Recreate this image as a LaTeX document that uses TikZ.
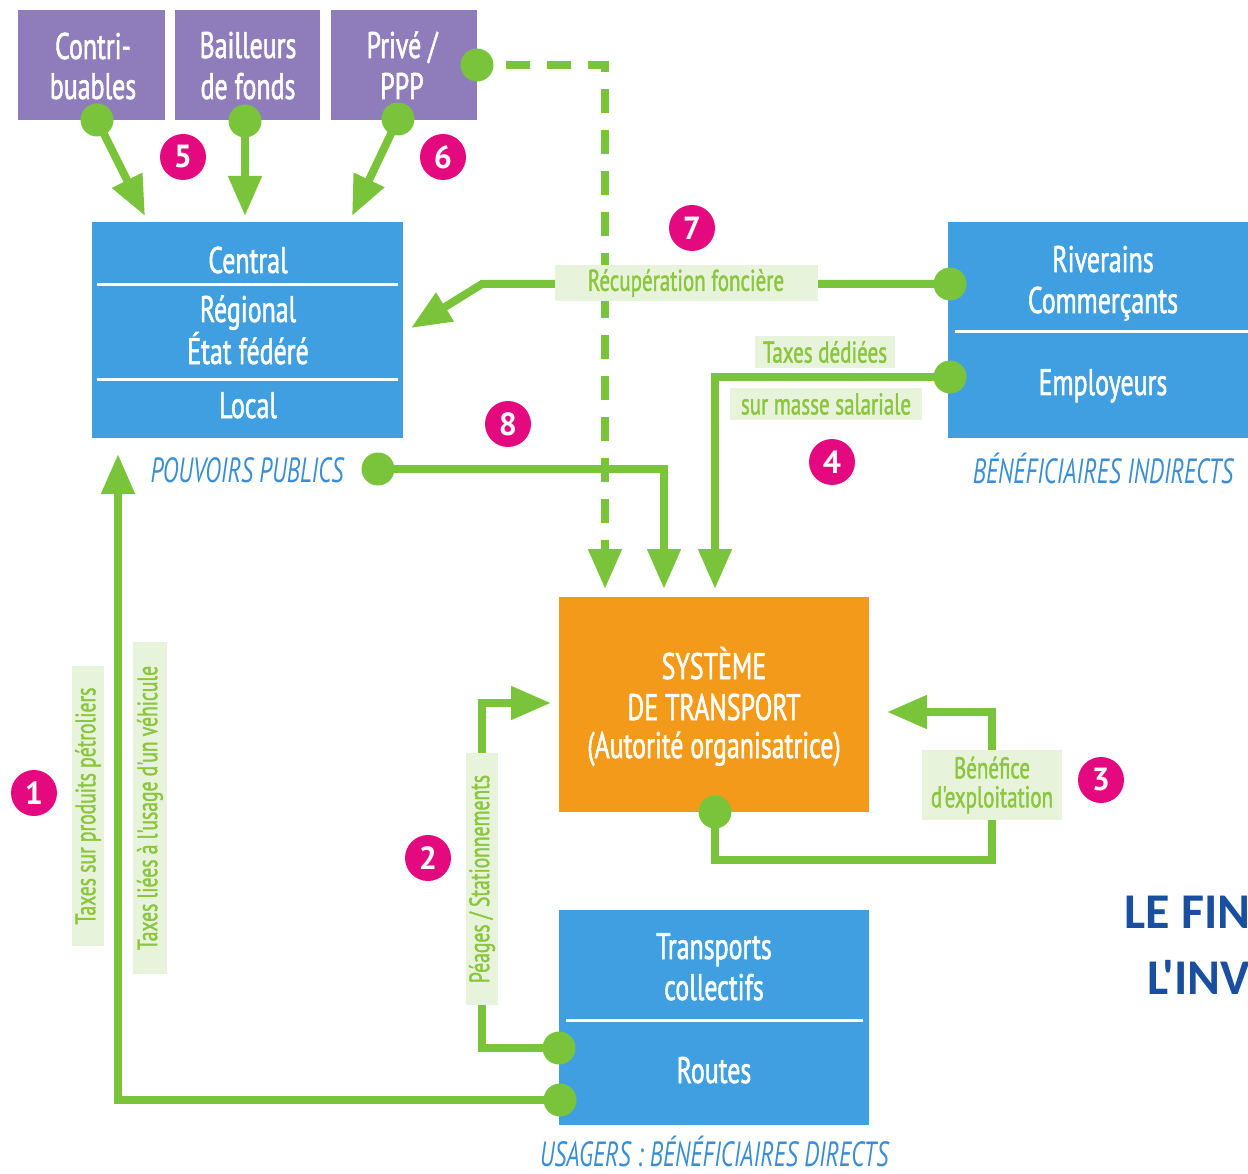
\documentclass[tikz,border=0pt]{standalone}
\usepackage{fontspec}
\setmainfont{PT Sans}
\newfontfamily\cond[FakeStretch=0.70,FakeBold=1.4]{PT Sans}
\newfontfamily\capf[FakeStretch=0.68]{PT Sans}
\newfontfamily\titlef{Carlito}
\usetikzlibrary{arrows.meta}
\definecolor{purp}{HTML}{8E7DBA}
\definecolor{bluebox}{HTML}{3F9FE0}
\definecolor{orbox}{HTML}{F39A1B}
\definecolor{gr}{HTML}{7AC43C}
\definecolor{lbg}{HTML}{E8F3DC}
\definecolor{ltx}{HTML}{8CC63F}
\definecolor{mag}{HTML}{E5097F}
\definecolor{capblue}{HTML}{3B8ED4}
\definecolor{titleblue}{HTML}{1A4E9E}
\begin{document}
\begin{tikzpicture}[x=1pt,y=-1pt,
  pbox/.style={fill=purp, inner sep=0, outer sep=0},
  bbox/.style={fill=bluebox, inner sep=0, outer sep=0},
  obox/.style={fill=orbox, inner sep=0, outer sep=0},
  btxt/.style={text=white, font=\cond\fontsize{37}{40}\selectfont, inner sep=0, anchor=base},
  captxt/.style={text=capblue, font=\capf\itshape\fontsize{35}{38}\selectfont, inner sep=0, anchor=base},
  sepline/.style={draw=white, line width=3pt},
  flow/.style={draw=gr, line width=8pt, -{Triangle[length=40pt,width=32pt]}},
  dflow/.style={draw=gr, line width=8pt, dash pattern=on 24pt off 17pt, -{Triangle[length=40pt,width=32pt]}},
  gdot/.style={circle, fill=gr, minimum size=33pt, inner sep=0},
  lbl/.style={fill=lbg, text=ltx, font=\cond\fontsize{30}{33}\selectfont, inner sep=0, align=center},
  num/.style={circle, fill=mag, text=white, minimum size=46pt, inner sep=0, font=\bfseries\fontsize{32}{32}\selectfont}
]
\useasboundingbox (0,0) rectangle (1248,1174);
\clip (0,0) rectangle (1248,1174);

% ---------- boxes ----------
\node[pbox, minimum width=147pt, minimum height=110pt] (contri) at (91.5,65) {};
\node[pbox, minimum width=145pt, minimum height=110pt] (bail) at (247.5,65) {};
\node[pbox, minimum width=146pt, minimum height=110pt] (prive) at (404,65) {};
\node[btxt] (contriA) at (93,59) {Contri-};
\node[btxt] (contriB) at (93,99) {buables};
\node[btxt] (bailA) at (248,58) {Bailleurs};
\node[btxt] (bailB) at (248,99) {de fonds};
\node[btxt] (priveA) at (402,58) {Privé /};
\node[btxt] (priveB) at (402,99) {PPP};

\node[bbox, minimum width=311pt, minimum height=216pt] (pp) at (247.5,330) {};
\draw[sepline] (97,285) -- (398,285);
\draw[sepline] (97,379) -- (398,379);
\node[btxt] (central) at (248,273) {Central};
\node[btxt] (regional) at (248,322) {Régional};
\node[btxt] (etat) at (248,364) {État fédéré};
\node[btxt] (local) at (248,418) {Local};
\node[captxt] (ppcap) at (247,482) {POUVOIRS PUBLICS};

\node[bbox, minimum width=310pt, minimum height=216pt] (bi) at (1103,330) {};
\draw[sepline] (955,332) -- (1248,332);
\node[btxt] (riv) at (1103,272) {Riverains};
\node[btxt] (com) at (1103,313) {Commerçants};
\node[btxt] (emp) at (1103,395) {Employeurs};
\node[captxt] (bicap) at (1103,483) {BÉNÉFICIAIRES INDIRECTS};

\node[obox, minimum width=310pt, minimum height=215pt] (st) at (714,704.5) {};
\node[btxt] (stA) at (714,679) {SYSTÈME};
\node[btxt] (stB) at (714,720) {DE TRANSPORT};
\node[btxt] (stC) at (714,758) {(Autorité organisatrice)};

\node[bbox, minimum width=310pt, minimum height=215pt] (us) at (714,1017.5) {};
\draw[sepline] (566,1020) -- (863,1020);
\node[btxt] (tcA) at (714,959) {Transports};
\node[btxt] (tcB) at (714,1000) {collectifs};
\node[btxt] (rt) at (714,1083) {Routes};
\node[captxt] (uscap) at (714,1166) {USAGERS : BÉNÉFICIAIRES DIRECTS};

% ---------- coordinates ----------
\coordinate (pContri) at (97,120);
\coordinate (pBail) at (245,121);
\coordinate (pPrive) at (398,119);
\coordinate (pPriveR) at (477,65);
\coordinate (pPP) at (378,469);
\coordinate (pRiv) at (950,284);
\coordinate (pEmp) at (950,377);
\coordinate (pSt) at (715,812);
\coordinate (pTc) at (559,1048);
\coordinate (pRt) at (560,1100);

\coordinate (t5a) at (145,216);
\coordinate (t5b) at (245,216);
\coordinate (t6) at (352,216);
\coordinate (dStart) at (506,65);
\coordinate (dCorner) at (605,65);
\coordinate (tDash) at (605,589);
\coordinate (c8) at (664,469);
\coordinate (t8) at (664,589);
\coordinate (c4) at (715,377);
\coordinate (t4) at (715,589);
\coordinate (c7) at (482,284);
\coordinate (t7) at (411,328);
\coordinate (c3a) at (715,860);
\coordinate (c3b) at (992,860);
\coordinate (c3c) at (992,712);
\coordinate (t3) at (887,712);
\coordinate (c2a) at (482,1048);
\coordinate (c2b) at (482,703);
\coordinate (t2) at (551,703);
\coordinate (c1) at (118,1100);
\coordinate (t1) at (118,454);

% ---------- connectors ----------
\draw[flow] (pContri) -- (t5a);
\draw[flow] (pBail) -- (t5b);
\draw[flow] (pPrive) -- (t6);
\draw[dflow] (dStart) -- (dCorner) -- (tDash);
\draw[flow] (pPP) -- (c8) -- (t8);
\draw[flow] (pEmp) -- (c4) -- (t4);
\draw[flow] (pRiv) -- (c7) -- (t7);
\draw[flow] (pSt) -- (c3a) -- (c3b) -- (c3c) -- (t3);
\draw[flow] (pTc) -- (c2a) -- (c2b) -- (t2);
\draw[flow] (pRt) -- (c1) -- (t1);

% ---------- dots ----------
\foreach \p in {pContri,pBail,pPrive,pPriveR,pPP,pRiv,pEmp,pSt,pTc,pRt}
  \node[gdot] (dot-\p) at (\p) {};

% ---------- labels ----------
\node[lbl, minimum width=263pt, minimum height=36pt] (recup) at (686,283) {Récupération foncière};
\node[lbl, minimum width=140pt, minimum height=32pt] (taxd) at (825,352) {Taxes dédiées};
\node[lbl, minimum width=192pt, minimum height=32pt] (masse) at (826,404) {sur masse salariale};
\node[lbl, minimum width=140pt, minimum height=70pt] (benef) at (992,785) {Bénéfice\\[-4pt]d'exploitation};
\node[lbl, rotate=90, minimum width=280pt, minimum height=32pt, font=\cond\fontsize{28}{30}\selectfont] (petrol) at (88,806) {Taxes sur produits pétroliers};
\node[lbl, rotate=90, minimum width=332pt, minimum height=34pt, font=\cond\fontsize{28}{30}\selectfont] (vehic) at (150,808) {Taxes liées à l'usage d'un véhicule};
\node[lbl, rotate=90, minimum width=252pt, minimum height=32pt, font=\cond\fontsize{28}{30}\selectfont] (peage) at (482,879) {Péages / Stationnements};

% ---------- numbers ----------
\node[num] (n1) at (34,793) {1};
\node[num] (n2) at (428,858) {2};
\node[num] (n3) at (1101,780) {3};
\node[num] (n4) at (832,462) {4};
\node[num] (n5) at (183,157) {5};
\node[num] (n6) at (443,157) {6};
\node[num] (n7) at (692,228) {7};
\node[num] (n8) at (508,424) {8};

% ---------- title (cut by the frame) ----------
\node[anchor=base west, inner sep=0, text=titleblue, font=\titlef\bfseries\fontsize{50}{50}\selectfont] (titleA) at (1124,928) {LE FIN};
\node[anchor=base west, inner sep=0, text=titleblue, font=\titlef\bfseries\fontsize{50}{50}\selectfont] (titleB) at (1147,994) {L'INV};
\end{tikzpicture}
\end{document}
